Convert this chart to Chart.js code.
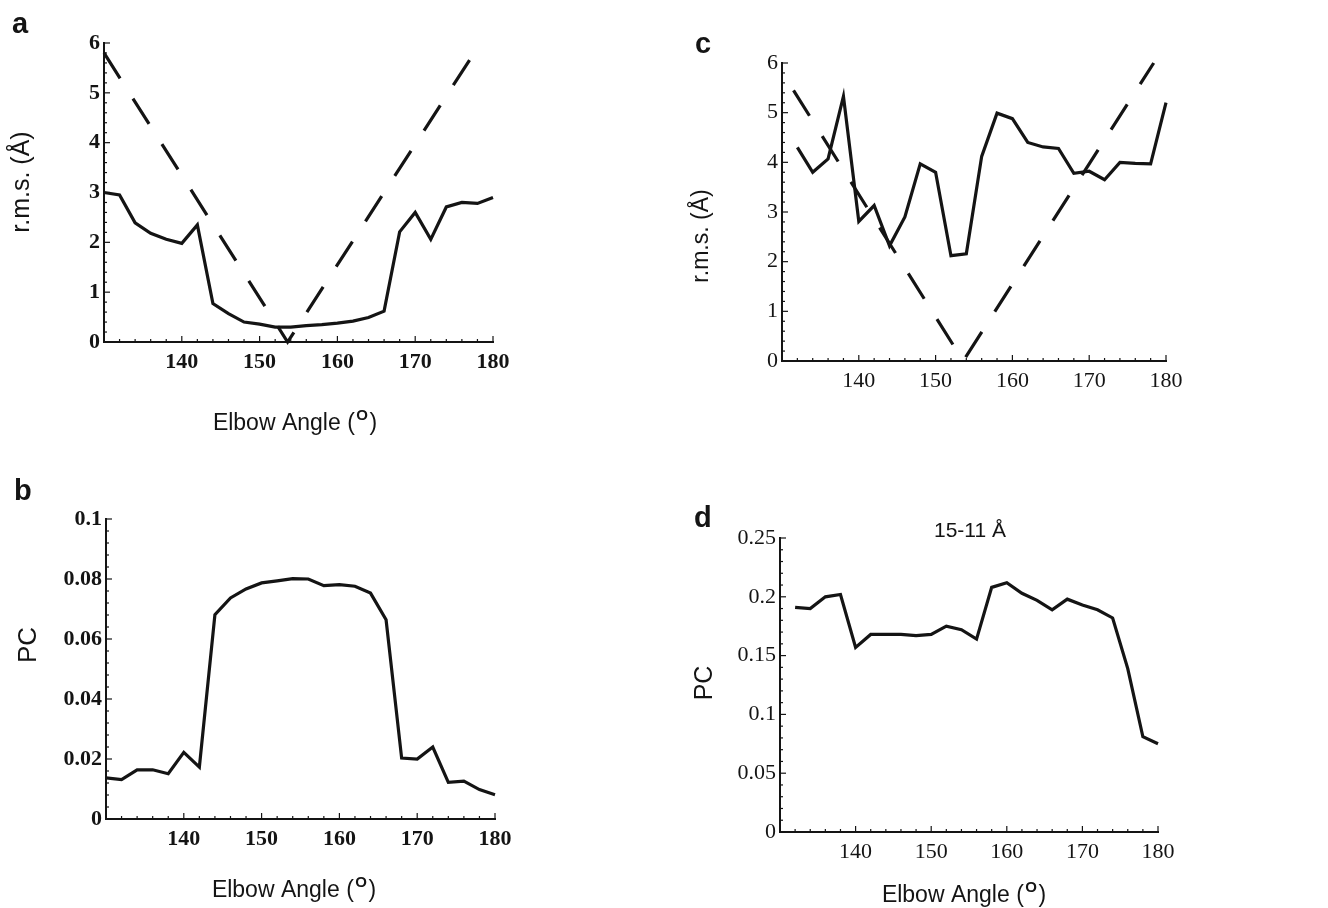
<!DOCTYPE html>
<html>
<head>
<meta charset="utf-8">
<script src="https://cdn.jsdelivr.net/npm/chart.js@4.4.0/dist/chart.umd.min.js"></script>
<style>
  body { margin: 0; background: #fff; }
  .wrap { position: relative; width: 1328px; height: 908px; }
  .wrap canvas { position: absolute; left: 0; top: 0; }
</style>
</head>
<body>
<div class="wrap">
  <canvas id="panelA" width="1328" height="908"></canvas>
  <canvas id="panelB" width="1328" height="908"></canvas>
  <canvas id="panelC" width="1328" height="908"></canvas>
  <canvas id="panelD" width="1328" height="908"></canvas>
</div>
<script>
// elbow angles (degrees)
const anglesAB = [130, 132, 134, 136, 138, 140, 142, 144, 146, 148, 150, 152, 154,
  156, 158, 160, 162, 164, 166, 168, 170, 172, 174, 176, 178, 180];
const anglesCD = [132, 134, 136, 138, 140, 142, 144, 146, 148, 150, 152, 154,
  156, 158, 160, 162, 164, 166, 168, 170, 172, 174, 176, 178, 180];

// panel a: r.m.s. deviation (solid) and reference V (dashed)
const rmsA = [3.0, 2.95, 2.39, 2.18, 2.06, 1.98, 2.35, 0.77, 0.57, 0.40, 0.36, 0.30, 0.30,
  0.33, 0.35, 0.38, 0.42, 0.49, 0.62, 2.21, 2.60, 2.06, 2.71, 2.80, 2.78, 2.90];
const refAnglesA = [130, 153.6, 178.4];
const refA = [5.8, 0, 6];

// panel b: PC
const pcB = [0.0137, 0.0131, 0.0164, 0.0164, 0.0151, 0.0222, 0.0173, 0.0681, 0.0737,
  0.0767, 0.0787, 0.0794, 0.0801, 0.0800, 0.0778, 0.0781, 0.0776, 0.0753, 0.0664,
  0.0203, 0.0200, 0.0240, 0.0122, 0.0126, 0.0098, 0.0081];

// panel c
const rmsC = [4.3, 3.8, 4.07, 5.33, 2.81, 3.13, 2.32, 2.9, 3.97, 3.8, 2.12, 2.16, 4.12,
  4.99, 4.88, 4.4, 4.31, 4.28, 3.78, 3.82, 3.65, 4.0, 3.98, 3.97, 5.2];
const refAnglesC = [131.5, 153.6, 178.4];
const refC = [5.45, 0, 6];

// panel d: PC, 15-11 Å
const pcD = [0.191, 0.190, 0.200, 0.202, 0.157, 0.168, 0.168, 0.168, 0.167, 0.168, 0.175,
  0.172, 0.164, 0.208, 0.212, 0.203, 0.197, 0.189, 0.198, 0.193, 0.189, 0.182, 0.139,
  0.081, 0.075];

const xTickLabels = [140, 150, 160, 170, 180];

const INK = "#141414";
const SANS = '"Liberation Sans", Arial, Helvetica, sans-serif';
const SERIF = '"Liberation Serif", "Times New Roman", serif';

const toPoints = (xs, ys) => xs.map((x, i) => ({ x: x, y: ys[i] }));

// small inward ticks, Mathematica style
const inwardTicks = {
  id: "inwardTicks",
  afterDraw(chart, args, opts) {
    const { ctx, scales } = chart;
    const x = scales.x, y = scales.y;
    ctx.save();
    ctx.strokeStyle = INK;
    ctx.lineWidth = 1.2;
    const nx = Math.round((x.max - x.min) / opts.xMinor);
    const xEvery = Math.round(opts.xMajor / opts.xMinor);
    for (let i = 0; i <= nx; i++) {
      const px = x.getPixelForValue(x.min + i * opts.xMinor);
      const len = i % xEvery === 0 ? 6 : 3;
      ctx.beginPath();
      ctx.moveTo(px, y.bottom);
      ctx.lineTo(px, y.bottom - len);
      ctx.stroke();
    }
    const ny = Math.round((y.max - y.min) / opts.yMinor);
    const yEvery = Math.round(opts.yMajor / opts.yMinor);
    for (let i = 0; i <= ny; i++) {
      const py = y.getPixelForValue(y.min + i * opts.yMinor);
      const len = i % yEvery === 0 ? 6 : 3;
      ctx.beginPath();
      ctx.moveTo(x.left, py);
      ctx.lineTo(x.left + len, py);
      ctx.stroke();
    }
    ctx.restore();
  }
};

// panel letter, axis titles, heading
const panelText = {
  id: "panelText",
  afterDraw(chart, args, opts) {
    const ctx = chart.ctx;
    ctx.save();
    ctx.fillStyle = INK;
    if (opts.letter) {
      ctx.font = "bold 29px " + SANS;
      ctx.textAlign = "left";
      ctx.textBaseline = "alphabetic";
      ctx.fillText(opts.letter.text, opts.letter.x, opts.letter.y);
    }
    if (opts.heading) {
      ctx.font = "21px " + SANS;
      ctx.textAlign = "center";
      ctx.textBaseline = "alphabetic";
      ctx.fillText(opts.heading.text, opts.heading.x, opts.heading.y);
    }
    if (opts.yTitle) {
      ctx.save();
      ctx.translate(opts.yTitle.x, opts.yTitle.y);
      ctx.rotate(-Math.PI / 2);
      ctx.font = opts.yTitle.size + "px " + SANS;
      ctx.textAlign = "center";
      ctx.textBaseline = "middle";
      ctx.fillText(opts.yTitle.text, 0, 0);
      ctx.restore();
    }
    if (opts.xTitle) {
      // "Elbow Angle (°)" with a raised capital O
      const big = "23px " + SANS, small = "bold 15px " + SANS;
      ctx.textBaseline = "alphabetic";
      ctx.textAlign = "left";
      ctx.font = big;
      const w1 = ctx.measureText("Elbow Angle (").width;
      const w3 = ctx.measureText(")").width;
      ctx.font = small;
      const w2 = ctx.measureText("O").width + 3;
      const cx = opts.xTitle.x - (w1 + w2 + w3) / 2;
      const by = opts.xTitle.y;
      ctx.font = big;
      ctx.fillText("Elbow Angle (", cx, by);
      ctx.font = small;
      ctx.fillText("O", cx + w1 + 1.5, by - 10);
      ctx.font = big;
      ctx.fillText(")", cx + w1 + w2, by);
    }
    ctx.restore();
  }
};

function makePanel(id, area, yRange, datasets, tickFont, text, minor) {
  const yAxisWidth = 60, xAxisHeight = 40;
  return new Chart(document.getElementById(id), {
    type: "scatter",
    data: { datasets: datasets },
    plugins: [inwardTicks, panelText],
    options: {
      responsive: false,
      animation: false,
      layout: {
        padding: {
          left: area.left - yAxisWidth,
          top: area.top,
          right: 1328 - area.right,
          bottom: 908 - area.bottom - xAxisHeight
        }
      },
      scales: {
        x: {
          type: "linear",
          min: 130,
          max: 180,
          grid: { display: false, drawTicks: false },
          border: { display: true, color: INK, width: 2 },
          afterFit: (s) => { s.height = xAxisHeight; },
          afterBuildTicks: (s) => {
            s.ticks = [130].concat(xTickLabels).map((v) => ({ value: v }));
          },
          ticks: {
            padding: 7,
            color: INK,
            font: tickFont,
            maxRotation: 0,
            callback: (v) => (xTickLabels.includes(v) ? String(v) : "")
          }
        },
        y: {
          min: yRange.min,
          max: yRange.max,
          grid: { display: false, drawTicks: false },
          border: { display: true, color: INK, width: 2 },
          afterFit: (s) => { s.width = yAxisWidth; },
          ticks: {
            stepSize: yRange.step,
            padding: 4,
            color: INK,
            font: tickFont,
            callback: (v) => String(+v.toFixed(4))
          }
        }
      },
      plugins: {
        legend: { display: false },
        tooltip: { enabled: false },
        inwardTicks: minor,
        panelText: text
      }
    }
  });
}

const solid = (pts) => ({
  data: pts, showLine: true, pointRadius: 0, borderColor: INK,
  borderWidth: 3.2, tension: 0, clip: 4
});
const dashed = (pts) => ({
  data: pts, showLine: true, pointRadius: 0, borderColor: INK,
  borderWidth: 3.2, borderDash: [30, 24], tension: 0, clip: 4
});

const boldTick = { family: SERIF, size: 22, weight: "bold" };
const plainTick = { family: SERIF, size: 22 };

makePanel("panelA", { left: 104, top: 43, right: 493, bottom: 342 },
  { min: 0, max: 6, step: 1 },
  [dashed(toPoints(refAnglesA, refA)), solid(toPoints(anglesAB, rmsA))],
  boldTick,
  {
    letter: { text: "a", x: 12, y: 33 },
    yTitle: { text: "r.m.s. (Å)", x: 22, y: 182, size: 25 },
    xTitle: { x: 295, y: 430 }
  },
  { xMajor: 10, xMinor: 2, yMajor: 1, yMinor: 0.2 });

makePanel("panelB", { left: 106, top: 519, right: 495, bottom: 819 },
  { min: 0, max: 0.1, step: 0.02 },
  [solid(toPoints(anglesAB, pcB))],
  boldTick,
  {
    letter: { text: "b", x: 14, y: 500 },
    yTitle: { text: "PC", x: 29, y: 645, size: 26 },
    xTitle: { x: 294, y: 897 }
  },
  { xMajor: 10, xMinor: 2, yMajor: 0.02, yMinor: 0.004 });

makePanel("panelC", { left: 782, top: 63, right: 1166, bottom: 361 },
  { min: 0, max: 6, step: 1 },
  [dashed(toPoints(refAnglesC, refC)), solid(toPoints(anglesCD, rmsC))],
  plainTick,
  {
    letter: { text: "c", x: 695, y: 53 },
    yTitle: { text: "r.m.s. (Å)", x: 702, y: 236, size: 23 }
  },
  { xMajor: 10, xMinor: 2, yMajor: 1, yMinor: 0.2 });

makePanel("panelD", { left: 780, top: 538, right: 1158, bottom: 832 },
  { min: 0, max: 0.25, step: 0.05 },
  [solid(toPoints(anglesCD, pcD))],
  plainTick,
  {
    letter: { text: "d", x: 694, y: 527 },
    heading: { text: "15-11 Å", x: 970, y: 537 },
    yTitle: { text: "PC", x: 705, y: 683, size: 25 },
    xTitle: { x: 964, y: 902 }
  },
  { xMajor: 10, xMinor: 2, yMajor: 0.05, yMinor: 0.01 });
</script>
</body>
</html>
